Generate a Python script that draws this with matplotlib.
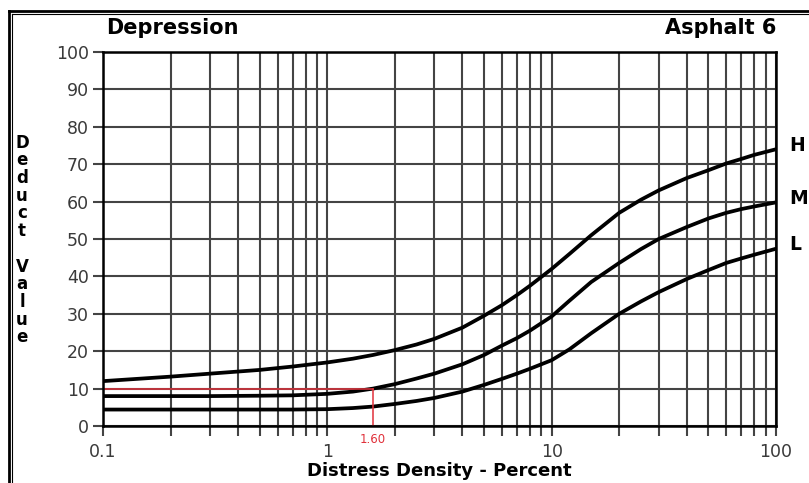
import numpy as np
import matplotlib
matplotlib.use("Agg")
import matplotlib.pyplot as plt
from matplotlib.lines import Line2D
from matplotlib.ticker import LogLocator, NullFormatter, FixedLocator

# densidad de falla (%) y valores deducidos
densidad = [0.1, 0.15, 0.2, 0.3, 0.5, 0.7, 1, 1.3, 1.6, 2, 2.5, 3, 4, 5, 6, 7, 8,
            10, 12, 15, 20, 25, 30, 40, 50, 60, 70, 80, 100]
curva_H = [12, 12.7, 13.2, 14, 15, 15.9, 17, 18, 19, 20.3, 21.8, 23.3, 26.3, 29.5,
           32.3, 35, 37.5, 42, 46, 51, 57, 60.5, 63, 66.3, 68.4, 70.2, 71.4, 72.5, 74]
curva_M = [8, 8, 8, 8, 8.1, 8.2, 8.6, 9.2, 10, 11.2, 12.7, 14, 16.5, 19, 21.5, 23.5,
           25.5, 29.3, 33.5, 38.5, 43.6, 47.3, 50, 53.2, 55.5, 57, 58, 58.7, 59.8]
curva_L = [4.4, 4.4, 4.4, 4.4, 4.4, 4.4, 4.5, 4.8, 5.2, 5.9, 6.7, 7.5, 9.2, 11, 12.6,
           14, 15.3, 17.6, 20.5, 24.8, 30, 33.3, 35.8, 39.3, 41.7, 43.6, 44.8, 45.8, 47.4]
etiquetas = ["H", "M", "L"]

# lectura de ejemplo (linea roja)
dens_lectura = 1.60
valor_lectura = 10

fig = plt.figure(figsize=(8.09, 4.83), dpi=100)
ax = fig.add_axes([0.1273, 0.118, 0.8319, 0.7743])

gris = "#444444"
ax.set_xscale("log")
ax.set_xlim(0.1, 100)
ax.set_ylim(0, 100)
ax.xaxis.set_major_locator(FixedLocator([0.1, 1, 10, 100]))
ax.xaxis.set_minor_locator(LogLocator(base=10, subs=np.arange(2, 10)))
ax.xaxis.set_minor_formatter(NullFormatter())
ax.set_xticklabels(["0.1", "1", "10", "100"])
ax.set_yticks(np.arange(0, 101, 10))

ax.grid(True, which="both", axis="x", color=gris, linewidth=1.5)
ax.grid(True, which="major", axis="y", color=gris, linewidth=1.5)
ax.set_axisbelow(True)
ax.tick_params(axis="both", which="both", length=7, width=1.5, color=gris,
               labelsize=12.5, labelcolor="#3a3a3a")
ax.tick_params(axis="x", which="major", pad=5)
ax.tick_params(axis="y", pad=3)
for sp in ax.spines.values():
    sp.set_color("black")
    sp.set_linewidth(1.8)

for serie in [curva_H, curva_M, curva_L]:
    ax.plot(densidad, serie, color="black", linewidth=2.7, solid_capstyle="round")

# linea roja de lectura
ax.plot([0.1, dens_lectura], [valor_lectura, valor_lectura], color="#e0303a", linewidth=1.1)
ax.plot([dens_lectura, dens_lectura], [0, valor_lectura], color="#e0303a", linewidth=1.1)
ax.text(dens_lectura, -2.0, f"{dens_lectura:.2f}", color="#e0303a", fontsize=8.5,
        ha="center", va="top")

# etiquetas de las curvas a la derecha
for etq, serie in zip(etiquetas, [curva_H, curva_M, curva_L]):
    ax.text(1.02, (serie[-1] + 1.0) / 100, etq, transform=ax.transAxes,
            fontsize=13.5, fontweight="bold", ha="left", va="center")

ax.set_xlabel("Distress Density - Percent", fontsize=13, fontweight="bold", labelpad=1)
fig.text(172 / 809, 1 - 28 / 483, "Depression", fontsize=15, fontweight="bold",
         ha="center", va="center")
fig.text(776 / 809, 1 - 28 / 483, "Asphalt 6", fontsize=15, fontweight="bold",
         ha="right", va="center")
fig.text(22 / 809, 1 - 240 / 483, "\n".join("Deduct") + "\n\n" + "\n".join("Value"),
         fontsize=12, fontweight="bold", ha="center", va="center", linespacing=0.98)

# marco de la figura
fig.add_artist(Line2D([9 / 809, 1], [1 - 11 / 483] * 2, color="black", linewidth=2))
fig.add_artist(Line2D([12 / 809, 1], [1 - 14 / 483] * 2, color="black", linewidth=0.8))
fig.add_artist(Line2D([9 / 809] * 2, [0, 1 - 11 / 483], color="black", linewidth=2))
fig.add_artist(Line2D([12 / 809] * 2, [0, 1 - 14 / 483], color="black", linewidth=0.8))

plt.savefig("out.png", dpi=100)
plt.close()
